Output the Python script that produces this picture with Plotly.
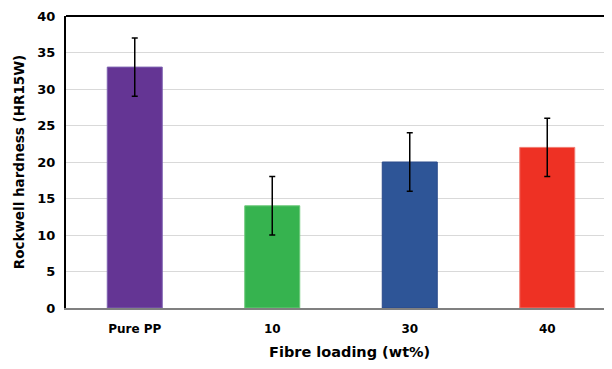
import plotly.graph_objects as go

categories = ["Pure PP", "10", "30", "40"]
hardness = [33, 14, 20, 22]
errors = [4, 4, 4, 4]
colors = ["#643594", "#36B34F", "#2E5597", "#EE3124"]
line_colors = ["#7d62b0", "#6cc97a", "#2a4a8a", "#f07a70"]
y_ticks = [0, 5, 10, 15, 20, 25, 30, 35, 40]

FONT = "DejaVu Sans, Liberation Sans, Arial, sans-serif"

fig = go.Figure()
fig.add_trace(go.Bar(
    x=categories, y=hardness, width=0.4,
    marker=dict(color=colors, line=dict(color=line_colors, width=1)),
    error_y=dict(type="data", array=errors, visible=True, color="#000000", thickness=1.5, width=3),
))

# top border
fig.add_shape(type="line", xref="paper", yref="paper", x0=0, x1=1, y0=1, y1=1,
              line=dict(color="#000000", width=2))

# x-axis title (centred on the original chart area, slightly right of plot centre)
fig.add_annotation(text="<b>Fibre loading (wt%)</b>", xref="paper", yref="paper",
                   x=0.516, y=-0.149, xanchor="center", yanchor="middle", showarrow=False,
                   font=dict(size=14.5, family=FONT, color="#000000"))

fig.update_layout(
    width=612, height=369,
    margin=dict(l=58, r=4, t=8, b=69, autoexpand=False),
    plot_bgcolor="white", paper_bgcolor="white",
    showlegend=False,
    font=dict(family=FONT, color="#000000"),
    xaxis=dict(
        range=[-0.5, 3.5],
        showline=True, linecolor="#808080", linewidth=2,
        tickfont=dict(size=12, family=FONT, weight="bold"),
        ticks="", showgrid=False, ticklabelstandoff=9,
    ),
    yaxis=dict(
        range=[0, 40], tickvals=y_ticks,
        showline=True, linecolor="#000000", linewidth=2,
        showgrid=True, gridcolor="#d9d9d9", gridwidth=1,
        zeroline=False,
        tickfont=dict(size=13, family=FONT, weight="bold"),
        ticks="", ticklabelstandoff=6, ticklabeloverflow="allow",
        title=dict(text="<b>Rockwell hardness (HR15W)</b>", font=dict(size=13.5, family=FONT), standoff=10),
    ),
)

fig.write_html("out.html")
